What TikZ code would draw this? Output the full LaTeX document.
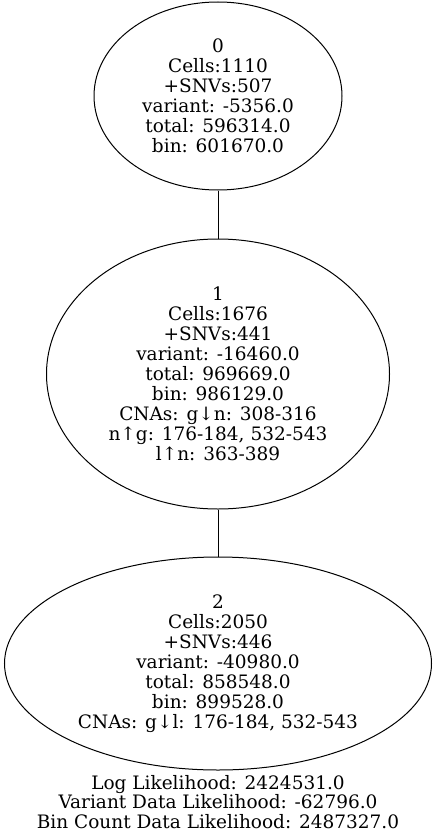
\documentclass[tikz,border=0pt]{standalone}
\usepackage{fontspec}
\setmainfont{DejaVu Serif}
\usetikzlibrary{shapes.geometric}
\usetikzlibrary{positioning}

\begin{document}
\begin{tikzpicture}[x=1pt,y=-1pt,line width=1pt,
    basic/.style={draw,align=center,inner sep=0pt,font=\fontsize{18.5}{20}\selectfont},
    clone/.style={basic,ellipse},
    info/.style={align=center,inner sep=0pt,font=\fontsize{18.5}{19.5}\selectfont},
]
        \useasboundingbox (0,0) rectangle (437,840);
        \node[clone,minimum width=248pt,minimum height=188pt] (c0) at (218,96)
            {0\\Cells:1110\\+SNVs:507\\variant: -5356.0\\total: 596314.0\\bin: 601670.0};
        \node[clone,minimum width=343pt,minimum height=270pt,below=48pt of c0] (c1)
            {1\\Cells:1676\\+SNVs:441\\variant: -16460.0\\total: 969669.0\\bin: 986129.0\\CNAs: g↓n: 308-316\\n↑g: 176-184, 532-543\\l↑n: 363-389};
            \path[draw] (c0) -- (c1);
        \node[clone,minimum width=427pt,minimum height=213pt,below=47pt of c1] (c2)
            {2\\Cells:2050\\+SNVs:446\\variant: -40980.0\\total: 858548.0\\bin: 899528.0\\CNAs: g↓l: 176-184, 532-543};
            \path[draw] (c1) -- (c2);
        \node[info] (lik) at (218,802)
            {Log Likelihood: 2424531.0\\Variant Data Likelihood: -62796.0\\Bin Count Data Likelihood: 2487327.0};
    \end{tikzpicture}
\end{document}
